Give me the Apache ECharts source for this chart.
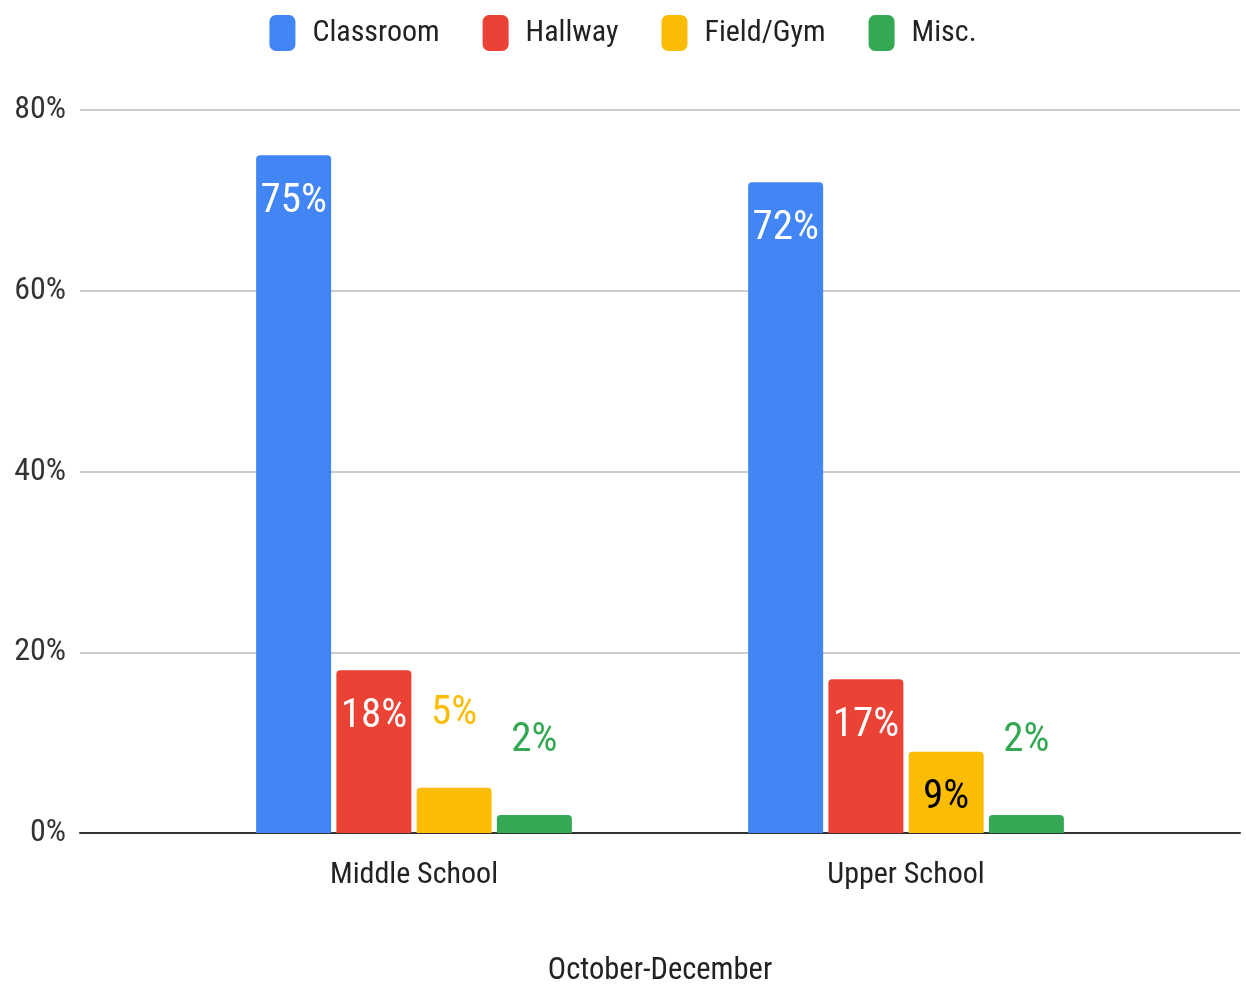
<!DOCTYPE html>
<html>
<head>
<meta charset="utf-8">
<script src="https://cdn.jsdelivr.net/npm/echarts@6/dist/echarts.min.js"></script>
<style>
html,body{margin:0;padding:0;background:#fff;}
#chart{width:1246px;height:991px;}
</style>
</head>
<body>
<div id="chart"></div>
<script>
const categories = ['Middle School', 'Upper School'];
const seriesNames = ['Classroom', 'Hallway', 'Field/Gym', 'Misc.'];
const classroom = [75, 72];
const hallway = [18, 17];
const fieldGym = [5, 9];
const misc = [2, 2];
const yTicks = [0, 20, 40, 60, 80];
const xTitle = 'October-December';

const colors = ['#4285F4', '#EA4335', '#FBBC04', '#34A853'];
const insideText = ['#ffffff', '#ffffff', '#000000', '#ffffff'];
const FONT = "'Roboto Condensed', 'Liberation Sans Narrow', 'Liberation Sans', Arial, sans-serif";

function makeSeries(name, values, idx) {
  return {
    name: name,
    type: 'bar',
    xAxisIndex: 1,
    yAxisIndex: 1,
    barWidth: 75,
    barGap: '7%',
    itemStyle: { color: colors[idx], borderRadius: [4, 4, 0, 0] },
    data: values.map(v => {
      const inside = v >= 8;
      return {
        value: v,
        label: inside ? {
          show: true, position: 'insideTop', distance: 26,
          color: insideText[idx], fontSize: 41, fontFamily: FONT,
          formatter: '{c}%'
        } : {
          show: true, position: 'top', distance: 54,
          color: colors[idx], fontSize: 41, fontFamily: FONT,
          formatter: '{c}%'
        }
      };
    })
  };
}

const chart = echarts.init(document.getElementById('chart'), null, { renderer: 'canvas' });
chart.setOption({
  animation: false,
  backgroundColor: '#ffffff',
  textStyle: { fontFamily: FONT },
  legend: {
    data: seriesNames,
    top: 10,
    left: 'center',
    itemWidth: 26,
    itemHeight: 36,
    itemGap: 43,
    icon: 'roundRect',
    textStyle: { fontSize: 30, color: '#222', fontFamily: FONT, padding: [0, 0, 0, 12] }
  },
  grid: [
    { left: 80, right: 6, top: 110, bottom: 158, outerBoundsMode: 'none' },
    { left: 168, right: 94, top: 110, bottom: 158, outerBoundsMode: 'none' }
  ],
  xAxis: [
    {
      type: 'value', gridIndex: 0, min: 0, max: 1,
      axisLine: { show: true, lineStyle: { color: '#333', width: 2 } },
      axisTick: { show: false }, axisLabel: { show: false }, splitLine: { show: false }
    },
    {
      type: 'category', gridIndex: 1, data: categories,
      axisLine: { show: false }, axisTick: { show: false },
      axisLabel: { fontSize: 30, color: '#222', margin: 27, fontFamily: FONT },
      name: xTitle, nameLocation: 'middle', nameGap: 123,
      nameTextStyle: { fontSize: 30.5, color: '#222', fontFamily: FONT }
    }
  ],
  yAxis: [
    {
      type: 'value', gridIndex: 0, min: yTicks[0], max: yTicks[yTicks.length - 1], interval: 20,
      axisLine: { show: false }, axisTick: { show: false },
      axisLabel: { formatter: '{value}%', fontSize: 32, color: '#333', margin: 14, fontFamily: FONT },
      splitLine: { lineStyle: { color: '#cccccc', width: 2 } }
    },
    {
      type: 'value', gridIndex: 1, min: yTicks[0], max: yTicks[yTicks.length - 1], interval: 20,
      show: false, splitLine: { show: false }
    }
  ],
  series: [
    makeSeries(seriesNames[0], classroom, 0),
    makeSeries(seriesNames[1], hallway, 1),
    makeSeries(seriesNames[2], fieldGym, 2),
    makeSeries(seriesNames[3], misc, 3)
  ]
});
</script>
</body>
</html>
